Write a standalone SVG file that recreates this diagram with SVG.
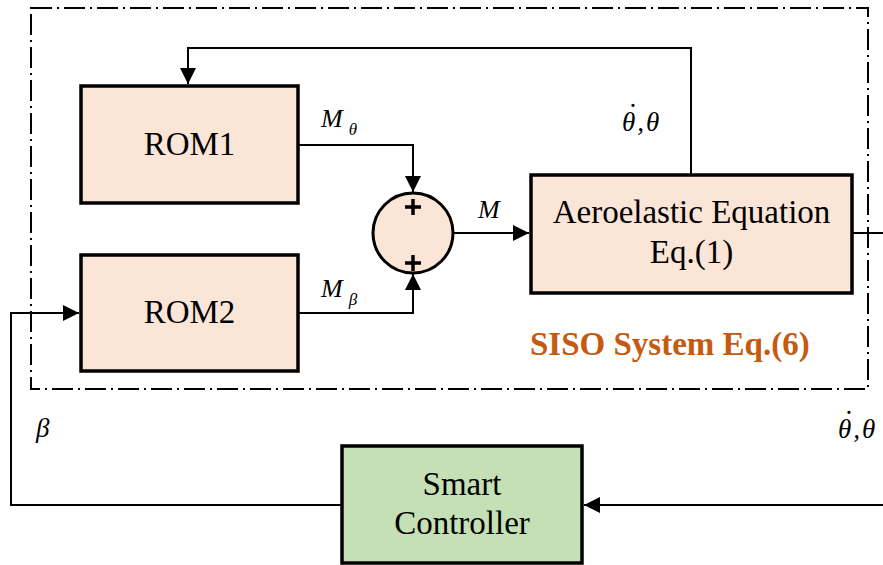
<svg xmlns="http://www.w3.org/2000/svg" width="883" height="565" viewBox="0 0 883 565">
<style>
text{font-family:"Liberation Serif","Times New Roman",serif}
.blk{fill:#FBE5D6;stroke:#000;stroke-width:3.5}
.grn{fill:#C5E0B4;stroke:#000;stroke-width:3.5}
.ln{fill:none;stroke:#000;stroke-width:2}
.t{font-size:33px;fill:#000}
.m{font-style:italic;fill:#000}
.siso{font-weight:bold;font-size:33px;fill:#C55A11}
</style>
<defs>
<marker id="ah" viewBox="0 0 10 10" refX="10" refY="5" markerWidth="16" markerHeight="16" markerUnits="userSpaceOnUse" orient="auto">
<path d="M0,0 L10,5 L0,10 z" fill="#000"/>
</marker>
</defs>
<rect x="31" y="8" width="837" height="381" fill="none" stroke="#000" stroke-width="2" stroke-dasharray="21 5 2 5"/>
<g id="connectors">
<path class="ln" d="M298,145 H413 V192" marker-end="url(#ah)"/>
<path class="ln" d="M298,313 H413 V274" marker-end="url(#ah)"/>
<path class="ln" d="M453,233 H529" marker-end="url(#ah)"/>
<path class="ln" d="M691,175 V48 H188 V84" marker-end="url(#ah)"/>
<path class="ln" d="M852,233 H883"/>
<path class="ln" d="M883,505 H584" marker-end="url(#ah)"/>
<path class="ln" d="M342,505 H11 V313 H79" marker-end="url(#ah)"/>
</g>
<g id="rom1">
<rect class="blk" x="81" y="86" width="217" height="117"/>
<text class="t" x="189.5" y="155" text-anchor="middle">ROM1</text>
</g>
<g id="rom2">
<rect class="blk" x="81" y="255" width="217" height="116"/>
<text class="t" x="189.5" y="323" text-anchor="middle">ROM2</text>
</g>
<g id="sum">
<circle cx="413" cy="233" r="40" fill="#FBE5D6" stroke="#000" stroke-width="3"/>
<path d="M413,199 V215 M405,207 H421 M413,255 V271 M405,263 H421" stroke="#000" stroke-width="3.5" fill="none"/>
</g>
<g id="aero">
<rect class="blk" x="531" y="175" width="321" height="118"/>
<text class="t" x="691.5" y="223" text-anchor="middle">Aeroelastic Equation</text>
<text class="t" x="691.5" y="263" text-anchor="middle">Eq.(1)</text>
</g>
<g id="controller">
<rect class="grn" x="342" y="446" width="240" height="117"/>
<text class="t" x="462" y="495" text-anchor="middle">Smart</text>
<text class="t" x="462" y="534" text-anchor="middle">Controller</text>
</g>
<g id="labels">
<text class="m" x="321" y="127" font-size="26">M<tspan font-size="17" dx="6" dy="8">θ</tspan></text>
<text class="m" x="321" y="297" font-size="26">M<tspan font-size="17" dx="6" dy="8">β</tspan></text>
<text class="m" x="478" y="218" font-size="26">M</text>
<text class="m" x="622" y="131" font-size="27"><tspan letter-spacing="2">θ,θ</tspan><tspan x="626" y="124" font-size="30">˙</tspan></text>
<text class="m" x="838" y="438" font-size="27"><tspan letter-spacing="2">θ,θ</tspan><tspan x="842" y="431" font-size="30">˙</tspan></text>
<text class="m" x="36" y="437" font-size="27">β</text>
<text class="siso" x="530" y="355">SISO System Eq.(6)</text>
</g>
</svg>
